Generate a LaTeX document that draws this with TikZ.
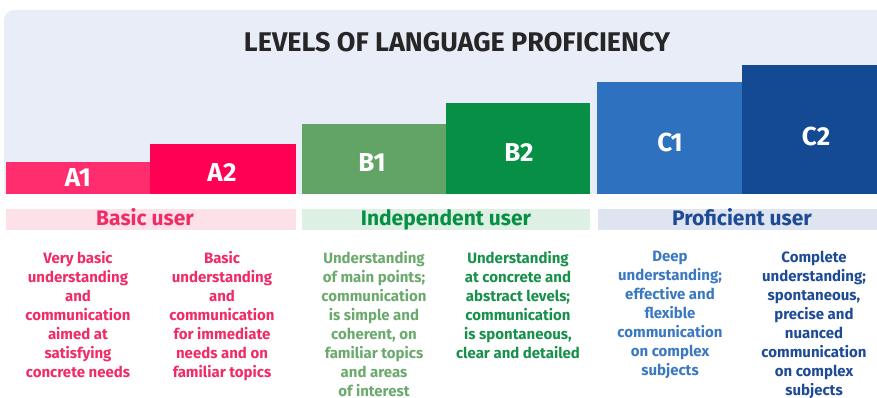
\documentclass[tikz,border=0pt]{standalone}
\usepackage{fontspec}
\setmainfont{Fira Sans}

\definecolor{panel}{HTML}{E9EDF8}
\definecolor{lvA1}{HTML}{FF2D6E}
\definecolor{lvA2}{HTML}{FF0054}
\definecolor{lvB1}{HTML}{62A466}
\definecolor{lvB2}{HTML}{068F45}
\definecolor{lvC1}{HTML}{2E71BE}
\definecolor{lvC2}{HTML}{134A93}
\definecolor{bandA}{HTML}{FDE1E9}
\definecolor{bandB}{HTML}{DDF0E3}
\definecolor{bandC}{HTML}{DFE4F1}
\definecolor{txA}{HTML}{F02B66}
\definecolor{txB1}{HTML}{6BAA6D}
\definecolor{txB2}{HTML}{17914A}
\definecolor{txC1}{HTML}{3A79C1}
\definecolor{txC2}{HTML}{1E4B96}

\tikzset{
  lvl/.style={font=\fontsize{26}{26}\selectfont\bfseries, text=white, inner sep=0pt},
  grp/.style={font=\fontsize{21}{21}\selectfont\bfseries, anchor=base},
  desc/.style={font=\fontsize{15}{19}\selectfont\bfseries, align=center, anchor=north, inner sep=0pt},
}

\begin{document}
\begin{tikzpicture}[x=1pt,y=-1pt]
			\useasboundingbox (0,0) rectangle (877,398);
			% Panel behind the steps
			\fill[panel] (877,194) -- (4,194) [rounded corners=10pt] -- (4,10) [sharp corners] -- (877,10) -- cycle;
			\node[font=\fontsize{27}{27}\selectfont\bfseries, text=black!85, inner sep=0pt] (title) at (457,42.5) {LEVELS OF LANGUAGE PROFICIENCY};
			% Steps
			\foreach \lv/\xa/\xb/\top/\lx/\ly in {A1/6/150/162/78/177.5,A2/150/296/144/222/172.5,B1/302/446/124/372/162,B2/446/590/103/519/152.5,C1/597/742/82/670/142.5,C2/742/877/65/816/136.5} {
			\fill[lv\lv] (\xa,\top) rectangle (\xb,194);
			\node[lvl] (bar\lv) at (\lx,\ly) {\lv};
			}
			% Groups
			\fill[bandA] (6,209) rectangle (296,230);
			\fill[bandB] (302,209) rectangle (590,230);
			\fill[bandC] (598,209) rectangle (877,230);
			\node[grp, text=txA] (basic) at (145,225) {Basic user};
			\node[grp, text=lvB2] (indep) at (446,225) {Independent user};
			\node[grp, text=txC2] (profi) at (742,225) {Proficient user};
			% Descriptions
			\node[desc, text=txA] (dA1) at (78,251) {Very basic\\understanding\\and\\communication\\aimed at\\satisfying\\concrete needs};
			\node[desc, text=txA] (dA2) at (222,251) {Basic\\understanding\\and\\communication\\for immediate\\needs and on\\familiar topics};
			\node[desc, text=txB1] (dB1) at (374,251) {Understanding\\of main points;\\communication\\is simple and\\coherent, on\\familiar topics\\and areas\\of interest};
			\node[desc, text=txB2] (dB2) at (518,251) {Understanding\\at concrete and\\abstract levels;\\communication\\is spontaneous,\\clear and detailed};
			\node[desc, text=txC1] (dC1) at (670,251) {Deep\\understanding;\\effective and\\flexible\\communication\\on complex\\subjects};
			\node[desc, text=txC2] (dC2) at (814,251) {Complete\\understanding;\\spontaneous,\\precise and\\nuanced\\communication\\on complex\\subjects};
		\end{tikzpicture}
\end{document}
